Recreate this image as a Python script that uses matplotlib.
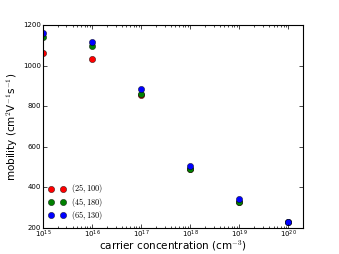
import matplotlib
matplotlib.use("Agg")
import matplotlib.pyplot as plt

conc = [1e15, 1e16, 1e17, 1e18, 1e19, 1e20]
mob_25_100 = [1062, 1033, 855, 489, 330, 228]
mob_45_180 = [1141, 1097, 860, 490, 328, 229]
mob_65_130 = [1160, 1116, 885, 505, 343, 231]
labels = [r'$(25,100)$', r'$(45,180)$', r'$(65,130)$']
colors = ['red', 'green', 'blue']

plt.style.use('classic')
plt.rcParams['mathtext.fontset'] = 'cm'
fig = plt.figure(figsize=(3.39, 2.54), dpi=100)
ax = fig.add_axes([0.127, 0.102, 0.767, 0.80])
for ys, lab, c in zip([mob_25_100, mob_45_180, mob_65_130], labels, colors):
    ax.plot(conc, ys, 'o', color=c, markersize=4.5, markeredgewidth=0.3,
            markeredgecolor='k', label=lab)
ax.set_xscale('log')
ax.set_xlim(1e15, 2e20)
ax.set_ylim(200, 1200)
ax.set_yticks([200, 400, 600, 800, 1000, 1200])
ax.tick_params(labelsize=5, length=3, width=0.5, pad=1.5)
ax.tick_params(axis='x', pad=0.5)
ax.tick_params(which='minor', length=1.5, width=0.5)
for s in ax.spines.values():
    s.set_linewidth(0.8)
ax.set_xlabel(r'carrier concentration (cm$^{-3}$)', fontsize=7.5, labelpad=-1)
ax.set_ylabel(r'mobility (cm$^2$V$^{-1}$s$^{-1}$)', fontsize=7.5, labelpad=2)
ax.legend(loc='lower left', numpoints=2, frameon=False, fontsize=6,
          handletextpad=0.6, labelspacing=0.05, borderaxespad=0.3)
fig.savefig('out.png', dpi=100)
